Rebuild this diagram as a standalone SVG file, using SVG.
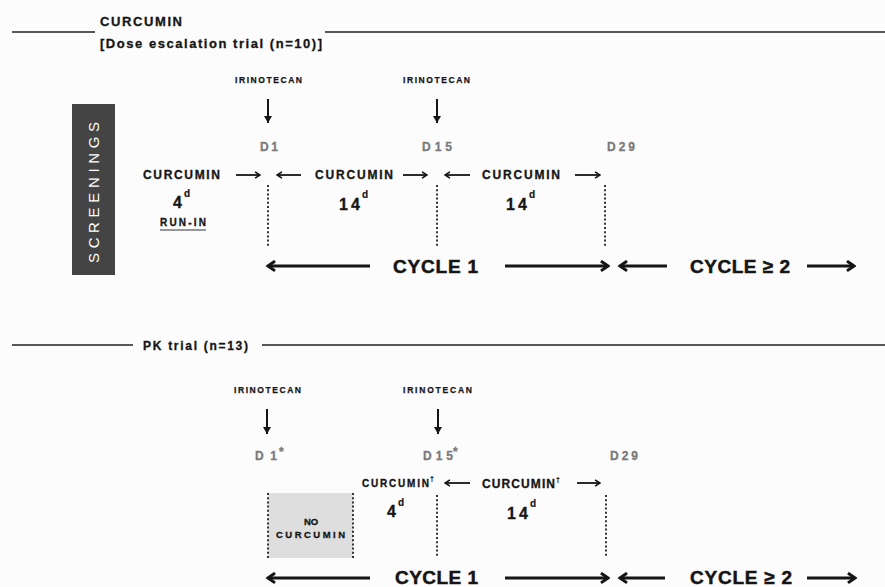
<svg xmlns="http://www.w3.org/2000/svg" width="885" height="587" viewBox="0 0 885 587">
<style>
text{font-family:"Liberation Sans",Arial,sans-serif;font-weight:bold;fill:#151515;stroke:#151515;stroke-width:0.3}
.hd{font-size:13px}
.ir{font-size:8.5px;stroke-width:0.25}
.dl{font-size:12px;fill:#7a7a7a;stroke:#7a7a7a}
.cu{font-size:12px}
.cus{font-size:10px}
.num{font-size:16px}
.sup{font-size:10px;stroke-width:0.2}
.cy{font-size:19px;stroke-width:0.5}
.rule{stroke:#222;stroke-width:1.6}
.thin{stroke:#151515;stroke-width:1.8;fill:none;marker-end:url(#sm)}
.down{stroke:#151515;stroke-width:2;fill:none;marker-end:url(#dn)}
.big{stroke:#151515;stroke-width:3;fill:none;marker-end:url(#lg)}
.dot{stroke:#333;stroke-width:2;stroke-dasharray:2 2.2;fill:none}
</style>
<defs>
<marker id="sm" viewBox="0 0 10 10" refX="8.5" refY="5" markerWidth="9" markerHeight="9" markerUnits="userSpaceOnUse" orient="auto"><path d="M3,1.5 L8.5,5 L3,8.5" fill="none" stroke="#151515" stroke-width="1.8"/></marker>
<marker id="dn" viewBox="0 0 10 10" refX="9" refY="5" markerWidth="10" markerHeight="10" markerUnits="userSpaceOnUse" orient="auto"><path d="M2,1 L9,5 L2,9 z" fill="#151515"/></marker>
<marker id="lg" viewBox="0 0 12 12" refX="10.5" refY="6" markerWidth="13" markerHeight="13" markerUnits="userSpaceOnUse" orient="auto"><path d="M4,1.5 L10.5,6 L4,10.5" fill="none" stroke="#151515" stroke-width="2.8"/></marker>
</defs>
<rect width="885" height="587" fill="#fcfcfc"/>

<g id="header-top">
<line class="rule" x1="12" y1="32" x2="95" y2="32"/>
<line class="rule" x1="325" y1="32" x2="885" y2="32"/>
<text class="hd" x="100" y="26" textLength="82" lengthAdjust="spacing">CURCUMIN</text>
<text class="hd" x="100" y="48" textLength="222" lengthAdjust="spacing">[Dose escalation trial (n=10)]</text>
</g>

<g id="screenings">
<rect x="72" y="104" width="43" height="171" fill="#444"/>
<text x="0" y="0" transform="translate(99,263) rotate(-90)" style="font-size:15px;font-weight:normal;fill:#fff;stroke:none" textLength="141" lengthAdjust="spacing">SCREENINGS</text>
</g>

<g id="top-labels">
<text class="ir" x="235" y="83" textLength="67" lengthAdjust="spacing">IRINOTECAN</text>
<text class="ir" x="403" y="83" textLength="67" lengthAdjust="spacing">IRINOTECAN</text>
<text class="dl" x="260" y="151" textLength="18" lengthAdjust="spacing">D1</text>
<text class="dl" x="422" y="151" textLength="30" lengthAdjust="spacing">D15</text>
<text class="dl" x="607" y="151" textLength="28" lengthAdjust="spacing">D29</text>
<text class="cu" x="143" y="179" textLength="77" lengthAdjust="spacing">CURCUMIN</text>
<text class="cu" x="315" y="179" textLength="78" lengthAdjust="spacing">CURCUMIN</text>
<text class="cu" x="482" y="179" textLength="78" lengthAdjust="spacing">CURCUMIN</text>
<text class="num" x="173" y="208">4</text><text class="sup" x="184" y="197">d</text>
<text class="num" x="339" y="210" textLength="21" lengthAdjust="spacing">14</text><text class="sup" x="362" y="198">d</text>
<text class="num" x="506" y="210" textLength="21" lengthAdjust="spacing">14</text><text class="sup" x="529" y="198">d</text>
<text x="160" y="226" font-size="10" textLength="46" lengthAdjust="spacing">RUN-IN</text>
<line x1="160" y1="230" x2="206" y2="230" stroke="#333" stroke-width="1.2"/>
<text class="cy" x="393" y="273" textLength="85" lengthAdjust="spacing">CYCLE 1</text>
<text class="cy" x="690" y="273" textLength="100" lengthAdjust="spacing">CYCLE ≥ 2</text>
</g>

<g id="top-connectors">
<line class="down" x1="268" y1="99" x2="268" y2="123"/>
<line class="down" x1="437" y1="99" x2="437" y2="123"/>
<line class="thin" x1="236" y1="175" x2="260" y2="175"/>
<line class="thin" x1="301" y1="175" x2="277" y2="175"/>
<line class="thin" x1="403" y1="175" x2="427" y2="175"/>
<line class="thin" x1="470" y1="175" x2="445" y2="175"/>
<line class="thin" x1="575" y1="175" x2="600" y2="175"/>
<line class="dot" x1="268" y1="185" x2="268" y2="248"/>
<line class="dot" x1="437" y1="185" x2="437" y2="248"/>
<line class="dot" x1="605" y1="185" x2="605" y2="248"/>
<line class="big" x1="370" y1="266" x2="268" y2="266"/>
<line class="big" x1="505" y1="266" x2="608" y2="266"/>
<line class="big" x1="667" y1="266" x2="620" y2="266"/>
<line class="big" x1="807" y1="266" x2="854" y2="266"/>
</g>

<g id="header-pk">
<line class="rule" x1="12" y1="345" x2="133" y2="345"/>
<line class="rule" x1="262" y1="345" x2="885" y2="345"/>
<text x="143" y="350" font-size="12" textLength="105" lengthAdjust="spacing">PK trial (n=13)</text>
</g>

<g id="no-curcumin">
<rect x="268" y="493" width="85" height="65" fill="#dedede"/>
<line class="dot" x1="268" y1="493" x2="268" y2="558"/>
<line class="dot" x1="353" y1="493" x2="353" y2="558"/>
<text x="311" y="525" font-size="9.5" text-anchor="middle">NO</text>
<text x="310.5" y="538" font-size="9.5" text-anchor="middle" textLength="69" lengthAdjust="spacing">CURCUMIN</text>
</g>

<g id="bottom-labels">
<text class="ir" x="234" y="393" textLength="67" lengthAdjust="spacing">IRINOTECAN</text>
<text class="ir" x="403" y="393" textLength="69" lengthAdjust="spacing">IRINOTECAN</text>
<text class="dl" x="255" y="460" textLength="22" lengthAdjust="spacing">D1</text><text class="dl" x="279" y="456" font-size="9">*</text>
<text class="dl" x="423" y="460" textLength="30" lengthAdjust="spacing">D15</text><text class="dl" x="453" y="456" font-size="9">*</text>
<text class="dl" x="610" y="460" textLength="28" lengthAdjust="spacing">D29</text>
<text class="cus" x="362" y="487" textLength="67" lengthAdjust="spacing">CURCUMIN</text><text x="430" y="481" font-size="7" style="stroke-width:0.2">†</text>
<text class="cu" x="482" y="488" textLength="73" lengthAdjust="spacing">CURCUMIN</text><text x="556" y="482" font-size="7" style="stroke-width:0.2">†</text>
<text class="num" x="387" y="517">4</text><text class="sup" x="398" y="506">d</text>
<text class="num" x="507" y="519" textLength="21" lengthAdjust="spacing">14</text><text class="sup" x="530" y="507">d</text>
<text class="cy" x="395" y="584" textLength="83" lengthAdjust="spacing">CYCLE 1</text>
<text class="cy" x="690" y="584" textLength="102" lengthAdjust="spacing">CYCLE ≥ 2</text>
</g>

<g id="bottom-connectors">
<line class="down" x1="267" y1="409" x2="267" y2="434"/>
<line class="down" x1="438" y1="409" x2="438" y2="434"/>
<line class="thin" x1="470" y1="483" x2="445" y2="483"/>
<line class="thin" x1="577" y1="483" x2="600" y2="483"/>
<line class="dot" x1="437" y1="495" x2="437" y2="558"/>
<line class="dot" x1="606" y1="495" x2="606" y2="558"/>
<line class="big" x1="370" y1="578" x2="268" y2="578"/>
<line class="big" x1="505" y1="578" x2="608" y2="578"/>
<line class="big" x1="665" y1="578" x2="620" y2="578"/>
<line class="big" x1="807" y1="578" x2="855" y2="578"/>
</g>
</svg>
